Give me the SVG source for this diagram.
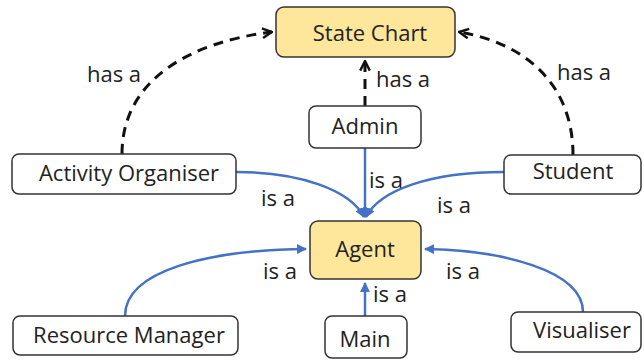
<svg xmlns="http://www.w3.org/2000/svg" width="644" height="360" viewBox="0 0 644 360">
<style>
.n{fill:#fff;stroke:#333;stroke-width:1.5}
.y{fill:#fee69b;stroke:#333;stroke-width:1.5}
text{font-family:"Open Sans","Noto Sans",sans-serif;font-size:22px;fill:#222;text-anchor:middle}
.d{fill:none;stroke:#111;stroke-width:3;stroke-dasharray:10,7}
.b{fill:none;stroke:#4472c4;stroke-width:2.5}
</style>
<defs>
<marker id="ha" viewBox="0 0 10 10" refX="9" refY="5" markerWidth="4" markerHeight="4" orient="auto" markerUnits="strokeWidth"><path d="M1,1 L9,5 L1,9" fill="none" stroke="#111" stroke-width="2"/></marker>
<marker id="ia" viewBox="0 0 10 10" refX="9" refY="5" markerWidth="4" markerHeight="4" orient="auto" markerUnits="strokeWidth"><path d="M0,0 L10,5 L0,10 Z" fill="#4472c4"/></marker>
</defs>
<g id="connectors">
<path class="d" d="M122,154 C122,80 190,42 272,32" marker-end="url(#ha)"/>
<path class="d" d="M365,106 L365,61" marker-end="url(#ha)"/>
<path class="d" d="M573,155 C573,80 520,42 459,32" marker-end="url(#ha)"/>
<path class="b" d="M236,172 C300,172 350,190 364,217" marker-end="url(#ia)"/>
<path class="b" d="M365,148 L365,217" marker-end="url(#ia)"/>
<path class="b" d="M504,172 C430,172 380,190 366,217" marker-end="url(#ia)"/>
<path class="b" d="M125,316 C125,270 210,250 306,249" marker-end="url(#ia)"/>
<path class="b" d="M365,316 L365,283" marker-end="url(#ia)"/>
<path class="b" d="M583,312 C583,270 500,250 425,249" marker-end="url(#ia)"/>
<text x="114" y="82">has a</text>
<text x="403" y="87">has a</text>
<text x="584" y="80">has a</text>
<text x="278" y="206">is a</text>
<text x="386" y="188">is a</text>
<text x="454" y="213">is a</text>
<text x="280" y="279">is a</text>
<text x="390" y="302">is a</text>
<text x="463" y="279">is a</text>
</g>
<g id="state-chart"><rect class="y" x="276" y="7" width="179" height="50" rx="8"/><text x="370" y="41">State Chart</text></g>
<g id="admin"><rect class="n" x="309" y="106" width="112" height="42" rx="7"/><text x="365" y="134">Admin</text></g>
<g id="activity-organiser"><rect class="n" x="12" y="154" width="224" height="40" rx="7"/><text x="129" y="181">Activity Organiser</text></g>
<g id="student"><rect class="n" x="504" y="155" width="137" height="39" rx="7"/><text x="573" y="179">Student</text></g>
<g id="agent"><rect class="y" x="310" y="221" width="111" height="58" rx="8"/><text x="365" y="257">Agent</text></g>
<g id="resource-manager"><rect class="n" x="13" y="316" width="225" height="39" rx="7"/><text x="129" y="343">Resource Manager</text></g>
<g id="main"><rect class="n" x="325" y="316" width="82" height="42" rx="7"/><text x="365" y="347">Main</text></g>
<g id="visualiser"><rect class="n" x="511" y="312" width="130" height="40" rx="7"/><text x="582" y="338">Visualiser</text></g>
</svg>
